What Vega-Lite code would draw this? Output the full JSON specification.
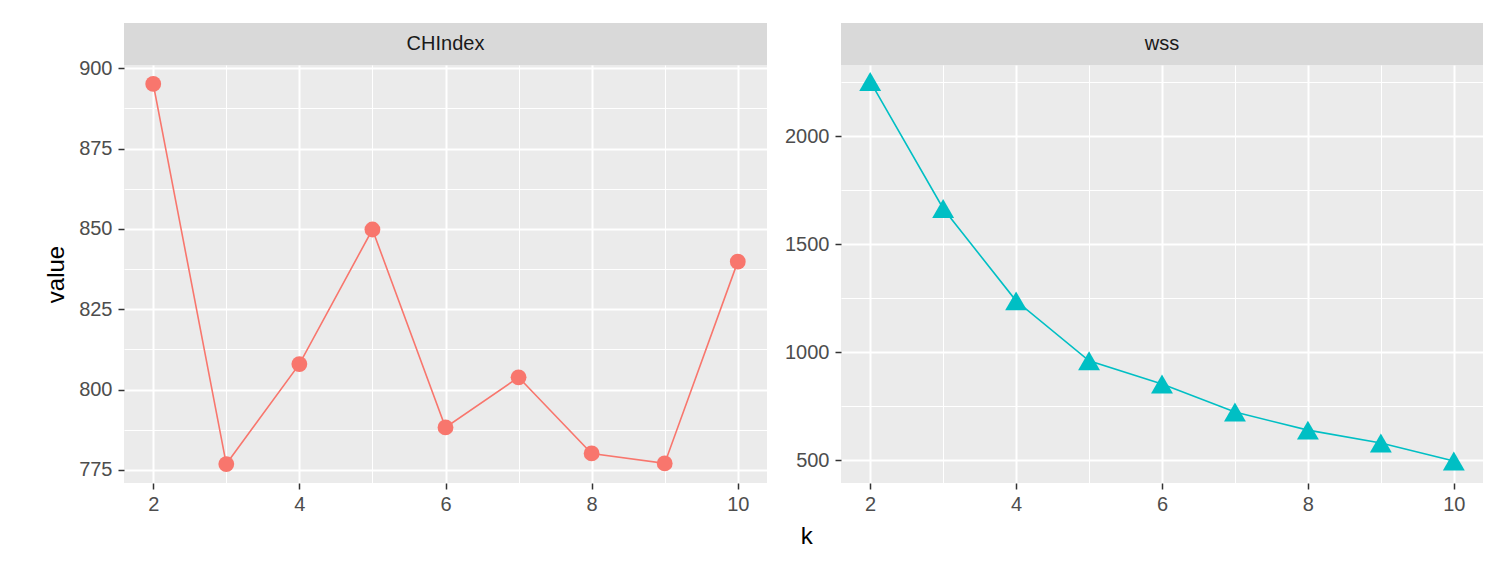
{
  "$schema": "https://vega.github.io/schema/vega-lite/v6.json",
  "background": "white",
  "padding": {"left": 44, "top": 23, "right": 15, "bottom": 10},
  "datasets": {
    "kdata": [
      {"index": "CHIndex", "k": 2, "value": 895.1},
      {"index": "CHIndex", "k": 3, "value": 776.8},
      {"index": "CHIndex", "k": 4, "value": 807.9},
      {"index": "CHIndex", "k": 5, "value": 849.8},
      {"index": "CHIndex", "k": 6, "value": 788.2},
      {"index": "CHIndex", "k": 7, "value": 803.8},
      {"index": "CHIndex", "k": 8, "value": 780.1},
      {"index": "CHIndex", "k": 9, "value": 777.0},
      {"index": "CHIndex", "k": 10, "value": 839.8},
      {"index": "wss", "k": 2, "value": 2255},
      {"index": "wss", "k": 3, "value": 1666},
      {"index": "wss", "k": 4, "value": 1238},
      {"index": "wss", "k": 5, "value": 960},
      {"index": "wss", "k": 6, "value": 853},
      {"index": "wss", "k": 7, "value": 723},
      {"index": "wss", "k": 8, "value": 639},
      {"index": "wss", "k": 9, "value": 579},
      {"index": "wss", "k": 10, "value": 496}
    ]
  },
  "title": {"text": "k", "orient": "bottom", "anchor": "middle", "fontSize": 24, "font": "Liberation Sans", "fontWeight": "normal", "color": "black", "offset": 11, "dx": 43},
  "spacing": 17,
  "hconcat": [
    {
      "spacing": 0,
      "bounds": "flush",
      "vconcat": [
        {
          "data": {"name": "kdata"},
          "transform": [
            {"filter": "datum.index === 'CHIndex'"},
            {"aggregate": [{"op": "count", "as": "n"}], "groupby": ["index"]}
          ],
          "width": 643,
          "height": 42,
          "view": {"fill": "#D9D9D9", "stroke": null},
          "mark": {"type": "text", "fontSize": 20, "color": "#1A1A1A", "font": "Liberation Sans", "baseline": "middle", "align": "center"},
          "encoding": {"text": {"field": "index"}}
        },
        {
          "data": {"name": "kdata"},
          "transform": [{"filter": "datum.index === 'CHIndex'"}],
          "width": 643,
          "height": 418,
          "encoding": {
            "x": {
              "field": "k", "type": "quantitative",
              "scale": {"domain": [1.6, 10.4], "nice": false, "zero": false},
              "axis": {
                "title": null,
                "values": [2, 3, 4, 5, 6, 7, 8, 9, 10],
                "labelFlush": false,
                "labelPadding": 5,
                "labelExpr": "datum.value % 2 === 0 ? datum.label : ''",
                "tickOpacity": {"condition": {"test": "datum.value % 2 === 0", "value": 1}, "value": 0},
                "gridWidth": {"condition": {"test": "datum.value % 2 === 0", "value": 2}, "value": 1}
              }
            },
            "y": {
              "field": "value", "type": "quantitative",
              "scale": {"domain": [770.9, 901.0], "nice": false, "zero": false},
              "axis": {
                "title": "value",
                "titlePadding": 10,
                "format": "d",
                "values": [775, 787.5, 800, 812.5, 825, 837.5, 850, 862.5, 875, 887.5, 900],
                "labelExpr": "datum.value % 25 === 0 ? datum.label : ''",
                "tickOpacity": {"condition": {"test": "datum.value % 25 === 0", "value": 1}, "value": 0},
                "gridWidth": {"condition": {"test": "datum.value % 25 === 0", "value": 2}, "value": 1}
              }
            }
          },
          "layer": [
            {"mark": {"type": "line", "color": "#F8766D", "strokeWidth": 1.6}},
            {"mark": {"type": "point", "shape": "circle", "filled": true, "opacity": 1, "color": "#F8766D", "size": 250}}
          ]
        }
      ]
    },
    {
      "spacing": 0,
      "bounds": "flush",
      "vconcat": [
        {
          "data": {"name": "kdata"},
          "transform": [
            {"filter": "datum.index === 'wss'"},
            {"aggregate": [{"op": "count", "as": "n"}], "groupby": ["index"]}
          ],
          "width": 642,
          "height": 42,
          "view": {"fill": "#D9D9D9", "stroke": null},
          "mark": {"type": "text", "fontSize": 20, "color": "#1A1A1A", "font": "Liberation Sans", "baseline": "middle", "align": "center"},
          "encoding": {"text": {"field": "index"}}
        },
        {
          "data": {"name": "kdata"},
          "transform": [{"filter": "datum.index === 'wss'"}],
          "width": 642,
          "height": 418,
          "encoding": {
            "x": {
              "field": "k", "type": "quantitative",
              "scale": {"domain": [1.6, 10.4], "nice": false, "zero": false},
              "axis": {
                "title": null,
                "values": [2, 3, 4, 5, 6, 7, 8, 9, 10],
                "labelFlush": false,
                "labelPadding": 5,
                "labelExpr": "datum.value % 2 === 0 ? datum.label : ''",
                "tickOpacity": {"condition": {"test": "datum.value % 2 === 0", "value": 1}, "value": 0},
                "gridWidth": {"condition": {"test": "datum.value % 2 === 0", "value": 2}, "value": 1}
              }
            },
            "y": {
              "field": "value", "type": "quantitative",
              "scale": {"domain": [394, 2331], "nice": false, "zero": false},
              "axis": {
                "title": null,
                "format": "d",
                "values": [500, 750, 1000, 1250, 1500, 1750, 2000, 2250],
                "labelExpr": "datum.value % 500 === 0 ? datum.label : ''",
                "tickOpacity": {"condition": {"test": "datum.value % 500 === 0", "value": 1}, "value": 0},
                "gridWidth": {"condition": {"test": "datum.value % 500 === 0", "value": 2}, "value": 1}
              }
            }
          },
          "layer": [
            {"mark": {"type": "line", "color": "#00BFC4", "strokeWidth": 1.6}},
            {"mark": {"type": "point", "shape": "triangle-up", "filled": true, "opacity": 1, "color": "#00BFC4", "size": 480}}
          ]
        }
      ]
    }
  ],
  "config": {
    "font": "Liberation Sans",
    "view": {"fill": "#EBEBEB", "stroke": null},
    "axis": {
      "domain": false,
      "grid": true,
      "gridColor": "white",
      "tickColor": "#333333",
      "tickSize": 6,
      "tickWidth": 1.5,
      "labelFont": "Liberation Sans",
      "labelFontSize": 20,
      "labelColor": "#4D4D4D",
      "labelPadding": 6,
      "titleFont": "Liberation Sans",
      "titleFontSize": 24,
      "titleFontWeight": "normal",
      "titleColor": "black"
    }
  }
}
